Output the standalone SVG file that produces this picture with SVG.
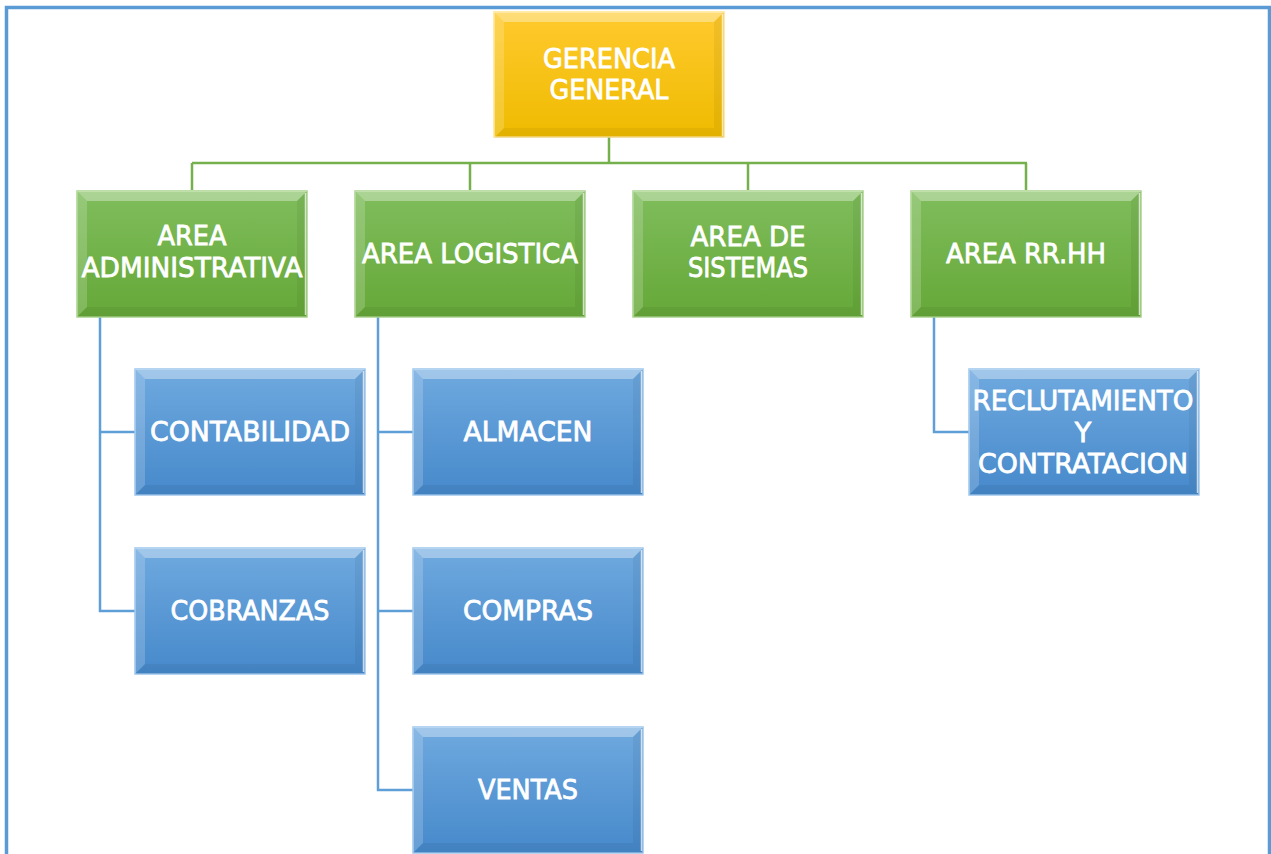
<svg xmlns="http://www.w3.org/2000/svg" width="1271" height="854" viewBox="0 0 1271 854">
  <defs>
    <linearGradient id="gGold" x1="0" y1="0" x2="0" y2="1">
      <stop offset="0" stop-color="#ffca2e"/>
      <stop offset="1" stop-color="#efbb00"/>
    </linearGradient>
    <linearGradient id="gGreen" x1="0" y1="0" x2="0" y2="1">
      <stop offset="0" stop-color="#7fbd5c"/>
      <stop offset="1" stop-color="#66a838"/>
    </linearGradient>
    <linearGradient id="gBlue" x1="0" y1="0" x2="0" y2="1">
      <stop offset="0" stop-color="#6fa9df"/>
      <stop offset="1" stop-color="#4689cb"/>
    </linearGradient>
    <!-- bevel facets shared by every box (230 x 126) -->
    <g id="bevel">
      <polygon points="0,0 230,0 220,10 10,10" fill="#ffffff" fill-opacity="0.35"/>
      <polygon points="0,0 10,10 10,116 0,126" fill="#ffffff" fill-opacity="0.18"/>
      <polygon points="230,0 230,126 220,116 220,10" fill="#000000" fill-opacity="0.05"/>
      <polygon points="0,126 10,116 220,116 230,126" fill="#000000" fill-opacity="0.05"/>
      <line x1="228.5" y1="2" x2="228.5" y2="124" stroke="#ffffff" stroke-opacity="0.7" stroke-width="1.5"/>
    </g>
  </defs>
  <style>
    .lbl { font-family: "DejaVu Sans", Verdana, sans-serif; font-size: 27px; fill: #ffffff; stroke: #ffffff; stroke-width: 0.8; text-anchor: middle; }
    .gold { fill: url(#gGold); stroke: #ffe38a; stroke-width: 1.5; }
    .green { fill: url(#gGreen); stroke: #a8d38a; stroke-width: 1.5; }
    .blue { fill: url(#gBlue); stroke: #9cc6ee; stroke-width: 1.5; }
    .lg { fill: none; stroke: #74b04b; stroke-width: 2.5; }
    .lb { fill: none; stroke: #5f9fd8; stroke-width: 2.5; }
  </style>

  <rect x="0" y="0" width="1271" height="854" fill="#ffffff"/>
  <!-- outer frame -->
  <rect x="6.5" y="7.5" width="1263" height="880" fill="none" stroke="#5b9bd5" stroke-width="3.5"/>

  <g id="connectors">
    <path class="lg" d="M609,137 V163 M192,163 H1027 M192,163 V190 M470,163 V190 M748,163 V190 M1026,163 V190"/>
    <path class="lb" d="M100,317 V611 H135 M100,432 H135"/>
    <path class="lb" d="M378,317 V790 H413 M378,432 H413 M378,611 H413"/>
    <path class="lb" d="M934,317 V432 H969"/>
  </g>

  <g id="gerencia" transform="translate(494,12)">
    <rect class="gold" width="230" height="125"/>
    <use href="#bevel"/>
    <text class="lbl" x="115" y="56" textLength="132" lengthAdjust="spacingAndGlyphs">GERENCIA</text>
    <text class="lbl" x="115" y="87" textLength="119" lengthAdjust="spacingAndGlyphs">GENERAL</text>
  </g>

  <g id="area-administrativa" transform="translate(77,191)">
    <rect class="green" width="230" height="126"/>
    <use href="#bevel"/>
    <text class="lbl" x="115" y="54" textLength="69" lengthAdjust="spacingAndGlyphs">AREA</text>
    <text class="lbl" x="115" y="86" textLength="221" lengthAdjust="spacingAndGlyphs">ADMINISTRATIVA</text>
  </g>

  <g id="area-logistica" transform="translate(355,191)">
    <rect class="green" width="230" height="126"/>
    <use href="#bevel"/>
    <text class="lbl" x="115" y="72" textLength="216" lengthAdjust="spacingAndGlyphs">AREA LOGISTICA</text>
  </g>

  <g id="area-sistemas" transform="translate(633,191)">
    <rect class="green" width="230" height="126"/>
    <use href="#bevel"/>
    <text class="lbl" x="115" y="55" textLength="115" lengthAdjust="spacingAndGlyphs">AREA DE</text>
    <text class="lbl" x="115" y="86" textLength="120" lengthAdjust="spacingAndGlyphs">SISTEMAS</text>
  </g>

  <g id="area-rrhh" transform="translate(911,191)">
    <rect class="green" width="230" height="126"/>
    <use href="#bevel"/>
    <text class="lbl" x="115" y="72" textLength="160" lengthAdjust="spacingAndGlyphs">AREA RR.HH</text>
  </g>

  <g id="contabilidad" transform="translate(135,369)">
    <rect class="blue" width="230" height="126"/>
    <use href="#bevel"/>
    <text class="lbl" x="115" y="72" textLength="200" lengthAdjust="spacingAndGlyphs">CONTABILIDAD</text>
  </g>

  <g id="cobranzas" transform="translate(135,548)">
    <rect class="blue" width="230" height="126"/>
    <use href="#bevel"/>
    <text class="lbl" x="115" y="72" textLength="159" lengthAdjust="spacingAndGlyphs">COBRANZAS</text>
  </g>

  <g id="almacen" transform="translate(413,369)">
    <rect class="blue" width="230" height="126"/>
    <use href="#bevel"/>
    <text class="lbl" x="115" y="72" textLength="129" lengthAdjust="spacingAndGlyphs">ALMACEN</text>
  </g>

  <g id="compras" transform="translate(413,548)">
    <rect class="blue" width="230" height="126"/>
    <use href="#bevel"/>
    <text class="lbl" x="115" y="72" textLength="130" lengthAdjust="spacingAndGlyphs">COMPRAS</text>
  </g>

  <g id="ventas" transform="translate(413,727)">
    <rect class="blue" width="230" height="126"/>
    <use href="#bevel"/>
    <text class="lbl" x="115" y="72" textLength="100" lengthAdjust="spacingAndGlyphs">VENTAS</text>
  </g>

  <g id="reclutamiento" transform="translate(969,369)">
    <rect class="blue" width="230" height="126"/>
    <use href="#bevel"/>
    <text class="lbl" x="114" y="41" textLength="221" lengthAdjust="spacingAndGlyphs">RECLUTAMIENTO</text>
    <text class="lbl" x="114" y="73">Y</text>
    <text class="lbl" x="114" y="104" textLength="210" lengthAdjust="spacingAndGlyphs">CONTRATACION</text>
  </g>
</svg>
